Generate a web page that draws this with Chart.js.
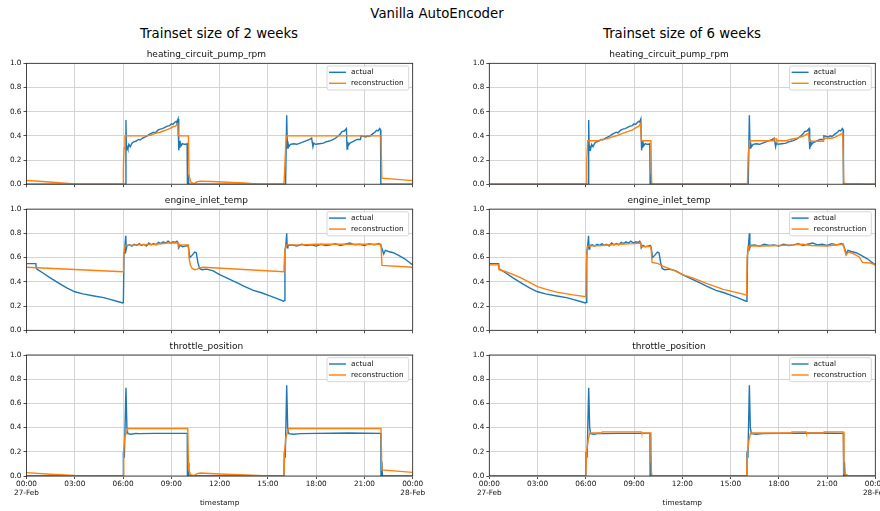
<!DOCTYPE html>
<html>
<head>
<meta charset="utf-8">
<title>Vanilla AutoEncoder</title>
<script src="https://cdn.jsdelivr.net/npm/chart.js@4.4.0/dist/chart.umd.min.js"></script>
<style>
  body { margin: 0; width: 880px; height: 511px; overflow: hidden; background: #fff; position: relative; font-family: 'DejaVu Sans', sans-serif; }
  canvas { position: absolute; }
  .fig-title { position: absolute; width: 400px; text-align: center; color: #000; white-space: nowrap; font-size: 13.3px; line-height: 18px; }
</style>
</head>
<body>
<div class="fig-title" style="left:237px; top:5px;">Vanilla AutoEncoder</div>
<div class="fig-title" style="left:19px; top:25px;">Trainset size of 2 weeks</div>
<div class="fig-title" style="left:482px; top:25px;">Trainset size of 6 weeks</div>

<script>
// hours since 00:00 on 27-Feb, normalised sensor value
const pumpActual = [
  [0, 0], [6.15, 0], [6.18, 0.53], [6.21, 0.28], [6.25, 0.31], [6.3, 0.29], [6.36, 0.33], [6.45, 0.31],
  [6.55, 0.34], [6.65, 0.35], [6.8, 0.355], [6.95, 0.37], [7.05, 0.365], [7.2, 0.38], [7.35, 0.39],
  [7.46, 0.395], [7.6, 0.41], [7.75, 0.42], [7.9, 0.43], [8.0, 0.425], [8.15, 0.445], [8.3, 0.455],
  [8.45, 0.46], [8.6, 0.47], [8.75, 0.48], [8.9, 0.485], [9.0, 0.5], [9.1, 0.495], [9.2, 0.51],
  [9.3, 0.52], [9.35, 0.515], [9.42, 0.54], [9.45, 0.37], [9.47, 0.28], [9.5, 0.36], [9.53, 0.3],
  [9.57, 0.34], [9.62, 0.32], [9.7, 0.335], [9.8, 0.33], [9.9, 0.33], [9.98, 0.335], [10.0, 0],
  [10.04, 0.08], [10.08, 0], [16.1, 0], [16.17, 0.57], [16.21, 0.3], [16.25, 0.34], [16.3, 0.31],
  [16.4, 0.33], [16.6, 0.335], [16.8, 0.33], [17.0, 0.34], [17.2, 0.35], [17.4, 0.36], [17.6, 0.37],
  [17.72, 0.38], [17.8, 0.31], [17.85, 0.34], [17.95, 0.33], [18.2, 0.335], [18.45, 0.34], [18.6, 0.35],
  [18.76, 0.355], [18.9, 0.36], [19.07, 0.37], [19.2, 0.38], [19.38, 0.4], [19.5, 0.415], [19.6, 0.435],
  [19.75, 0.44], [19.88, 0.46], [19.92, 0.29], [19.96, 0.35], [20.0, 0.32], [20.1, 0.34], [20.25, 0.35],
  [20.4, 0.36], [20.55, 0.37], [20.75, 0.37], [20.8, 0.4], [20.95, 0.395], [21.1, 0.39], [21.2, 0.4],
  [21.3, 0.395], [21.45, 0.41], [21.55, 0.42], [21.65, 0.43], [21.75, 0.445], [21.85, 0.44],
  [21.95, 0.46], [22.0, 0.45], [22.02, 0], [24, 0]
];
const pump2wRecon = [
  [0, 0.03], [1, 0.022], [2, 0.012], [3, 0.003], [3.3, 0], [6.0, 0], [6.02, 0.13], [6.06, 0.3],
  [6.12, 0.4], [7.45, 0.4], [7.7, 0.405], [8.0, 0.42], [8.3, 0.43], [8.5, 0.44], [8.7, 0.45],
  [8.9, 0.46], [9.1, 0.475], [9.25, 0.48], [9.4, 0.495], [9.43, 0.4], [10.06, 0.4], [10.1, 0.07],
  [10.2, 0.02], [10.4, 0.003], [10.6, 0.02], [10.8, 0.025], [11.5, 0.022], [12.5, 0.016], [13.5, 0.01],
  [14.3, 0.003], [14.6, 0], [16.0, 0], [16.04, 0.1], [16.1, 0.3], [16.15, 0.4], [22.03, 0.4],
  [22.08, 0.05], [24, 0.03]
];
const pump6wRecon = [
  [0, 0], [6.02, 0], [6.06, 0.2], [6.12, 0.36], [6.8, 0.36], [7.0, 0.37], [7.3, 0.375], [7.6, 0.39],
  [8.0, 0.405], [8.3, 0.42], [8.6, 0.435], [8.9, 0.45], [9.1, 0.465], [9.3, 0.48], [9.42, 0.505],
  [9.45, 0.36], [10.05, 0.36], [10.09, 0.02], [10.14, 0], [16.05, 0], [16.1, 0.25], [16.2, 0.36],
  [17.65, 0.36], [17.7, 0.375], [17.85, 0.375], [17.88, 0.36], [18.5, 0.36], [18.7, 0.37], [19.1, 0.38],
  [19.5, 0.395], [19.7, 0.41], [19.85, 0.42], [19.9, 0.355], [20.75, 0.355], [20.78, 0.38], [21.3, 0.38],
  [21.5, 0.39], [21.8, 0.41], [21.98, 0.42], [22.04, 0.01], [22.2, 0.005], [23.15, 0.005], [23.2, 0], [24, 0]
];

const inletActual = [
  [0, 0.55], [0.58, 0.55], [0.61, 0.51], [0.7, 0.5], [1.0, 0.475], [1.5, 0.43], [2.0, 0.39], [2.5, 0.35],
  [3.0, 0.318], [3.5, 0.3], [4.2, 0.283], [4.8, 0.27], [5.2, 0.255], [5.6, 0.24], [5.98, 0.225],
  [6.02, 0.23], [6.06, 0.64], [6.12, 0.7], [6.17, 0.78], [6.2, 0.67], [6.25, 0.7], [6.4, 0.705],
  [6.55, 0.695], [6.7, 0.71], [6.85, 0.7], [7.0, 0.715], [7.15, 0.7], [7.3, 0.71], [7.45, 0.695],
  [7.6, 0.72], [7.75, 0.705], [7.9, 0.715], [8.05, 0.705], [8.2, 0.725], [8.35, 0.715], [8.5, 0.73],
  [8.65, 0.72], [8.8, 0.735], [8.95, 0.72], [9.1, 0.73], [9.25, 0.725], [9.35, 0.735], [9.42, 0.72],
  [9.45, 0.68], [9.55, 0.7], [9.7, 0.69], [9.85, 0.695], [10.0, 0.7], [10.06, 0.69], [10.15, 0.6],
  [10.3, 0.62], [10.45, 0.645], [10.55, 0.64], [10.65, 0.56], [10.75, 0.51], [10.9, 0.5], [11.2, 0.505],
  [11.6, 0.49], [12.0, 0.46], [12.4, 0.435], [12.8, 0.41], [13.2, 0.385], [13.5, 0.365], [14.1, 0.33],
  [14.6, 0.31], [15.0, 0.29], [15.5, 0.265], [15.97, 0.24], [16.02, 0.245], [16.06, 0.65], [16.12, 0.71],
  [16.17, 0.8], [16.2, 0.68], [16.25, 0.7], [16.5, 0.705], [16.8, 0.695], [17.1, 0.71], [17.4, 0.7],
  [17.7, 0.705], [18.0, 0.695], [18.3, 0.71], [18.6, 0.7], [18.9, 0.705], [19.2, 0.715], [19.5, 0.7],
  [19.8, 0.71], [20.1, 0.72], [20.4, 0.705], [20.7, 0.71], [21.0, 0.7], [21.3, 0.715], [21.6, 0.705],
  [21.9, 0.715], [22.02, 0.7], [22.1, 0.67], [22.2, 0.63], [22.3, 0.66], [22.5, 0.65], [22.8, 0.64],
  [23.1, 0.62], [23.5, 0.59], [24, 0.54]
];
const inlet2wRecon = [
  [0, 0.52], [6.0, 0.483], [6.03, 0.6], [6.08, 0.67], [6.15, 0.7], [7.0, 0.705], [8.0, 0.71],
  [8.8, 0.72], [9.42, 0.72], [9.45, 0.705], [10.06, 0.705], [10.1, 0.6], [10.18, 0.54], [10.3, 0.51],
  [10.45, 0.5], [10.6, 0.505], [10.75, 0.515], [11.0, 0.52], [16.0, 0.483], [16.03, 0.6], [16.08, 0.67],
  [16.15, 0.705], [17, 0.705], [18, 0.71], [20, 0.71], [22.03, 0.71], [22.09, 0.535], [24, 0.52]
];
const inlet6wRecon = [
  [0, 0.54], [0.56, 0.54], [0.6, 0.5], [1.0, 0.485], [1.5, 0.46], [2.0, 0.43], [2.5, 0.395], [3.0, 0.36],
  [3.5, 0.34], [4.2, 0.315], [5.2, 0.292], [6.0, 0.278], [6.03, 0.55], [6.1, 0.69], [6.2, 0.695],
  [7.0, 0.7], [8.0, 0.71], [9.0, 0.715], [9.4, 0.72], [9.45, 0.69], [10.05, 0.69], [10.12, 0.56],
  [10.5, 0.55], [10.82, 0.527], [11.44, 0.497], [12.06, 0.458], [12.68, 0.43], [13.5, 0.387],
  [14.55, 0.338], [15.6, 0.305], [16.0, 0.29], [16.03, 0.6], [16.12, 0.69], [16.2, 0.695], [17, 0.695],
  [18, 0.7], [19, 0.705], [19.5, 0.71], [20, 0.7], [21, 0.695], [21.9, 0.71], [22.0, 0.715], [22.1, 0.66],
  [22.18, 0.62], [22.32, 0.645], [22.6, 0.635], [23.0, 0.605], [23.2, 0.56], [23.7, 0.555], [24, 0.54]
];

const throttleActual = [
  [0, 0], [6.0, 0], [6.02, 0.2], [6.08, 0.15], [6.18, 0.73], [6.24, 0.4], [6.3, 0.35], [6.5, 0.345],
  [6.8, 0.352], [7.0, 0.35], [8.0, 0.352], [9.0, 0.352], [9.99, 0.352], [10.0, 0], [10.05, 0.11],
  [10.09, 0], [16.0, 0], [16.02, 0.2], [16.08, 0.15], [16.17, 0.75], [16.23, 0.4], [16.3, 0.35],
  [16.6, 0.345], [17.0, 0.35], [18.0, 0.352], [20.0, 0.355], [22.02, 0.352], [22.03, 0], [22.08, 0.12],
  [22.12, 0], [24, 0]
];
const throttle2wRecon = [
  [0, 0.028], [1.5, 0.015], [3.0, 0.005], [4.5, 0], [6.0, 0], [6.04, 0.2], [6.1, 0.32], [6.3, 0.393],
  [10.02, 0.393], [10.07, 0.05], [10.2, 0.01], [10.4, 0.003], [10.6, 0.02], [10.8, 0.025], [12.0, 0.017],
  [14.0, 0.007], [15.0, 0], [16.0, 0], [16.04, 0.2], [16.12, 0.32], [16.3, 0.393], [22.03, 0.393],
  [22.08, 0.05], [24, 0.03]
];
const throttle6wRecon = [
  [0, 0], [6.0, 0], [6.05, 0.2], [6.15, 0.3], [6.25, 0.355], [7.0, 0.355], [7.02, 0.365], [9.45, 0.365],
  [9.47, 0.355], [10.05, 0.355], [10.08, 0.02], [10.12, 0], [16.0, 0], [16.05, 0.2], [16.15, 0.3],
  [16.25, 0.355], [18.8, 0.355], [18.82, 0.365], [19.7, 0.365], [19.72, 0.355], [20.8, 0.355],
  [20.82, 0.365], [22.0, 0.365], [22.05, 0.02], [22.3, 0.005], [23.2, 0.002], [23.25, 0], [24, 0]
];

const variables = ['heating_circuit_pump_rpm', 'engine_inlet_temp', 'throttle_position'];
const actualSeries = [pumpActual, inletActual, throttleActual];
const reconSeries = [
  [pump2wRecon, pump6wRecon],
  [inlet2wRecon, inlet6wRecon],
  [throttle2wRecon, throttle6wRecon]
];
const hourLabels = ['00:00', '03:00', '06:00', '09:00', '12:00', '15:00', '18:00', '21:00', '00:00'];
const dayLabels = ['27-Feb', '28-Feb'];

const BLUE = '#1f77b4';
const ORANGE = '#ff7f0e';
const TEXT = '#111';
const SMALL = 7.3;
const FONT = "'DejaVu Sans', sans-serif";

Chart.defaults.font.family = FONT;
Chart.defaults.color = TEXT;

// placement of each axes box on the page
const cols = [
  { canvasLeft: 0, areaLeft: 26.5, areaRight: 412.7 },
  { canvasLeft: 440, areaLeft: 489.3, areaRight: 875.3 }
];
const rows = [
  { canvasTop: 45, canvasBottom: 190, areaTop: 63.3, areaBottom: 184.2 },
  { canvasTop: 191, canvasBottom: 336, areaTop: 209.1, areaBottom: 330.3 },
  { canvasTop: 337, canvasBottom: 511, areaTop: 355, areaBottom: 476 }
];
const Y_AXIS_W = 26.5;

// white legend box in the top-right corner, then the four spines on top
const frameAndLegend = {
  id: 'frameAndLegend',
  afterDatasetsDraw(chart) {
    const { ctx, chartArea: a } = chart;
    ctx.save();
    ctx.font = SMALL + 'px ' + FONT;
    const sets = chart.data.datasets;
    const textW = Math.max(...sets.map(d => ctx.measureText(d.label).width));
    const w = 24 + textW + 5;
    const h = 24;
    const bx = a.right - 4 - w;
    const by = a.top + 2.7;
    ctx.fillStyle = 'rgba(255,255,255,0.85)';
    ctx.strokeStyle = '#cccccc';
    ctx.lineWidth = 0.8;
    ctx.beginPath();
    if (ctx.roundRect) ctx.roundRect(bx, by, w, h, 2); else ctx.rect(bx, by, w, h);
    ctx.fill();
    ctx.stroke();
    sets.forEach((d, i) => {
      const y = by + 6.3 + i * 11;
      ctx.strokeStyle = d.borderColor;
      ctx.lineWidth = d.borderWidth;
      ctx.beginPath();
      ctx.moveTo(bx + 2, y);
      ctx.lineTo(bx + 19, y);
      ctx.stroke();
      ctx.fillStyle = TEXT;
      ctx.textBaseline = 'middle';
      ctx.textAlign = 'left';
      ctx.fillText(d.label, bx + 24, y);
    });
    ctx.strokeStyle = '#222';
    ctx.lineWidth = 0.8;
    ctx.strokeRect(a.left, a.top, a.right - a.left, a.bottom - a.top);
    ctx.restore();
  }
};

function toPoints(series) {
  return series.map(([x, y]) => ({ x, y }));
}

function makePanel(r, c) {
  const col = cols[c];
  const row = rows[r];
  const isBottom = r === rows.length - 1;
  const canvas = document.createElement('canvas');
  const W = 440;
  const H = row.canvasBottom - row.canvasTop;
  canvas.width = W;
  canvas.height = H;
  canvas.style.left = col.canvasLeft + 'px';
  canvas.style.top = row.canvasTop + 'px';
  document.body.appendChild(canvas);

  const offsetTop = row.areaTop - row.canvasTop;
  const xAxisH = row.canvasBottom - row.areaBottom;

  new Chart(canvas.getContext('2d'), {
    type: 'line',
    data: {
      datasets: [
        { label: 'actual', data: toPoints(actualSeries[r]), borderColor: BLUE, borderWidth: 1.4, order: 1 },
        { label: 'reconstruction', data: toPoints(reconSeries[r][c]), borderColor: ORANGE, borderWidth: 1.4, order: 0 }
      ]
    },
    options: {
      responsive: false,
      animation: false,
      devicePixelRatio: 1,
      elements: { point: { radius: 0 }, line: { tension: 0, fill: false } },
      layout: {
        padding: { left: col.areaLeft - col.canvasLeft - Y_AXIS_W, right: col.canvasLeft + W - col.areaRight, top: 0, bottom: 0 }
      },
      plugins: {
        legend: { display: false },
        tooltip: { enabled: false },
        title: {
          display: true,
          text: variables[r],
          color: TEXT,
          font: { size: 9, weight: 'normal', lineHeight: 1.2 },
          padding: { top: offsetTop - 8.2 - 5.4, bottom: 2.8 }
        }
      },
      scales: {
        x: {
          type: 'linear',
          min: 0,
          max: 24,
          border: { display: false },
          grid: { color: '#d4d4d4', lineWidth: 1, tickLength: 3, tickColor: '#222', tickWidth: 0.8 },
          ticks: {
            display: isBottom,
            stepSize: 3,
            autoSkip: false,
            maxRotation: 0,
            padding: 1.2,
            font: { size: SMALL },
            callback(value) {
              const i = Math.round(value / 3);
              if (value === 0) return [hourLabels[i], dayLabels[0]];
              if (value === 24) return [hourLabels[i], dayLabels[1]];
              return hourLabels[i];
            }
          },
          title: {
            display: isBottom,
            text: 'timestamp',
            color: TEXT,
            font: { size: SMALL },
            padding: { top: 0, bottom: 3.6 }
          },
          afterFit(scale) {
            scale.height = xAxisH;
            scale.paddingLeft = 0;
            scale.paddingRight = 0;
          }
        },
        y: {
          min: 0,
          max: 1,
          border: { display: false },
          grid: { color: '#d4d4d4', lineWidth: 1, tickLength: 3, tickColor: '#222', tickWidth: 0.8 },
          ticks: {
            stepSize: 0.2,
            padding: 2,
            font: { size: SMALL },
            callback: v => v.toFixed(1)
          },
          afterFit(scale) {
            scale.width = Y_AXIS_W;
            scale.paddingTop = 0;
            scale.paddingBottom = 0;
          }
        }
      }
    },
    plugins: [frameAndLegend]
  });
}

for (let r = 0; r < rows.length; r++) {
  for (let c = 0; c < cols.length; c++) makePanel(r, c);
}
</script>
</body>
</html>
